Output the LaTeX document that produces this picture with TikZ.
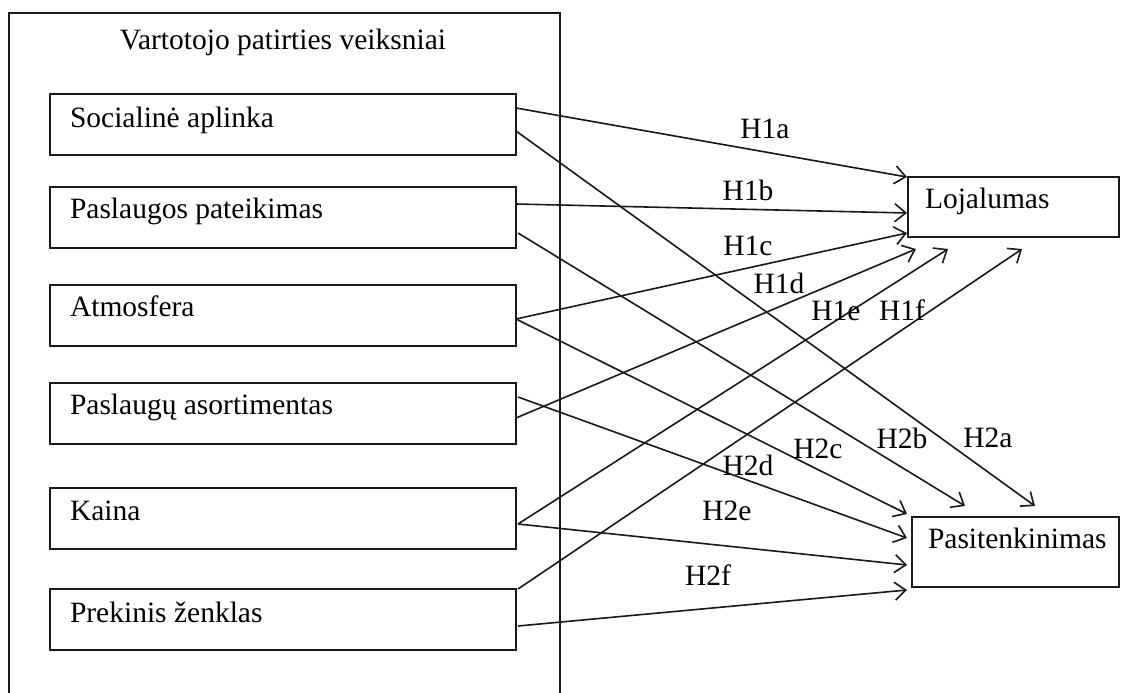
\documentclass[tikz,border=0pt]{standalone}
\usepackage{fontspec}
\setmainfont{Liberation Serif}
\usetikzlibrary{arrows.meta}
\begin{document}
\begin{tikzpicture}[x=1pt,y=-1pt,
  every node/.style={inner sep=0pt, outer sep=0pt},
  txt/.style={font=\fontsize{29.5}{34}\selectfont, anchor=base west},
  hyp/.style={font=\fontsize{29.5}{34}\selectfont, anchor=base},
  factorbox/.style={draw=black!90, line width=1.7pt, minimum width=466pt, minimum height=61pt, anchor=north west},
  outcomebox/.style={draw=black!90, line width=1.7pt, anchor=north west},
  link/.style={draw=black!90, line width=1.6pt, -{Straight Barb[length=11pt,width=18pt,line width=1.6pt]}}
]
\useasboundingbox (0,0) rectangle (1122,693);
\fill[white] (0,0) rectangle (1122,693);

% outer frame of the factor group (open at the bottom)
\draw[black!90, line width=1.7pt] (9,693) -- (9,13) -- (560,13) -- (560,693);
\node[hyp] (title) at (283,50) {Vartotojo patirties veiksniai};

% factor boxes
\node[factorbox] (soc) at (50,94) {};
\node[factorbox] (pas) at (50,187) {};
\node[factorbox] (atm) at (50,285) {};
\node[factorbox] (aso) at (50,383) {};
\node[factorbox] (kai) at (50,488) {};
\node[factorbox] (pre) at (50,589) {};
\node[txt] (socT) at (70,127) {Socialinė aplinka};
\node[txt] (pasT) at (70,218) {Paslaugos pateikimas};
\node[txt] (atmT) at (70,316) {Atmosfera};
\node[txt] (asoT) at (70,414) {Paslaugų asortimentas};
\node[txt] (kaiT) at (70,520) {Kaina};
\node[txt] (preT) at (70,622) {Prekinis ženklas};

% outcome boxes
\node[outcomebox, minimum width=211pt, minimum height=60pt] (loj) at (908,177) {};
\node[outcomebox, minimum width=207pt, minimum height=70pt] (sat) at (912,517) {};
\node[txt] (lojT) at (925,208) {Lojalumas};
\node[txt] (satT) at (928,548) {Pasitenkinimas};

% connector ports on the factor boxes
\coordinate (s1) at (516,108);
\coordinate (s2) at (516,131);
\coordinate (p1) at (516,204);
\coordinate (p2) at (518,233);
\coordinate (a0) at (516,319);
\coordinate (o1) at (518,397);
\coordinate (o2) at (516,418);
\coordinate (k0) at (518,524);
\coordinate (r1) at (518,589);
\coordinate (r2) at (518,626);

% arrow ends near the outcome boxes
\coordinate (L1) at (907,177);
\coordinate (L2) at (907,213);
\coordinate (L3) at (907,233);
\coordinate (L4) at (916,249);
\coordinate (L5) at (948,249);
\coordinate (L6) at (1022,249);
\coordinate (P1) at (1035,506);
\coordinate (P2) at (965,506);
\coordinate (P3) at (907,514);
\coordinate (P4) at (907,538);
\coordinate (P5) at (907,565);
\coordinate (P6) at (907,590);

% hypotheses H1 (loyalty)
\draw[link] (s1) -- (L1);
\draw[link] (p1) -- (L2);
\draw[link] (a0) -- (L3);
\draw[link] (o2) -- (L4);
\draw[link] (k0) -- (L5);
\draw[link] (r1) -- (L6);
% hypotheses H2 (satisfaction)
\draw[link] (s2) -- (P1);
\draw[link] (p2) -- (P2);
\draw[link] (a0) -- (P3);
\draw[link] (o1) -- (P4);
\draw[link] (k0) -- (P5);
\draw[link] (r2) -- (P6);

% hypothesis labels
\node[hyp] (h1a) at (765,138) {H1a};
\node[hyp] (h1b) at (748,200) {H1b};
\node[hyp] (h1c) at (748,255) {H1c};
\node[hyp] (h1d) at (779,293) {H1d};
\node[hyp] (h1e) at (836,320) {H1e};
\node[hyp] (h1f) at (902,320) {H1f};
\node[hyp] (h2a) at (988,447) {H2a};
\node[hyp] (h2b) at (902,448) {H2b};
\node[hyp] (h2c) at (818,458) {H2c};
\node[hyp] (h2d) at (748,475) {H2d};
\node[hyp] (h2e) at (727,520) {H2e};
\node[hyp] (h2f) at (708,585) {H2f};
\end{tikzpicture}
\end{document}
